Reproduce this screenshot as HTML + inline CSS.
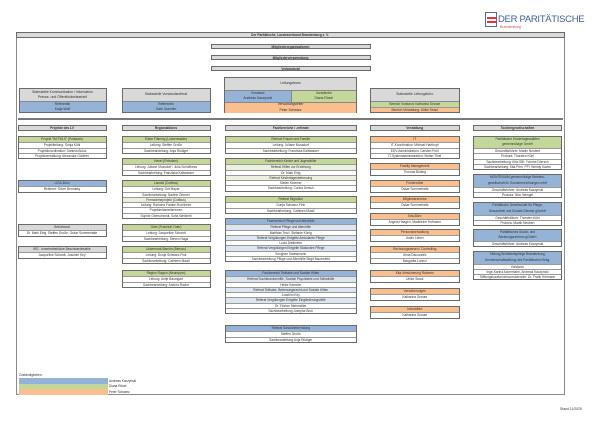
<!DOCTYPE html>
<html><head><meta charset="utf-8"><style>
*{margin:0;padding:0;box-sizing:border-box}
body{width:600px;height:424px;background:#fff;position:relative;overflow:hidden;font-family:"Liberation Sans",sans-serif;color:#333}
.a{position:absolute}
.b{position:absolute;border:0.8px solid #6a6a6a;background:#fff}
.r{height:5.3px;line-height:5.3px;font-size:3.2px;text-align:center;white-space:nowrap;overflow:hidden;border-top:0.4px solid #999}
.r:first-child{border-top:none}
.h{font-weight:bold}
.g{background:#d9d9d9}.bl{background:#95b3d7}.gr{background:#c4d79b}.or{background:#fabf8f}.lb{background:#dce6f1}.lg{background:#ebf1de}
.t{font-size:3.4px;text-align:center;display:flex;flex-direction:column;justify-content:center;align-items:center;line-height:5.5px}
</style></head><body>
<div class="a" style="left:485px;top:12px;width:12px;height:15px;border:1.2px solid #4a6fa5"></div>
<div class="a" style="left:487px;top:17px;width:10px;height:2px;background:#e2343d"></div>
<div class="a" style="left:487px;top:20.5px;width:10px;height:2px;background:#e2343d"></div>
<div class="a" style="left:498px;top:14px;font-size:9.5px;color:#3d5fa0;letter-spacing:-0.3px;white-space:nowrap">DER PARITÄTISCHE</div>
<div class="a" style="left:500px;top:24.5px;font-size:3.6px;color:#d9464d">Brandenburg</div>
<div class="a" style="left:15.5px;top:32px;width:549px;height:363px;border:1px solid #8a8a8a"></div>
<div class="b g" style="left:15.5px;top:32px;width:549px;height:5.5px"><div class="r h" style="height:4px;line-height:4px">Der Paritätische, Landesverband Brandenburg e. V.</div></div>
<div class="b g" style="left:210.5px;top:43.5px;width:160px;height:5.7px"><div class="r h" style="height:4.2px;line-height:4.2px">Mitgliederorganisationen</div></div>
<div class="b g" style="left:210.5px;top:54.5px;width:160px;height:5.7px"><div class="r h" style="height:4.2px;line-height:4.2px">Mitgliederversammlung</div></div>
<div class="b g" style="left:210.5px;top:65.5px;width:160px;height:5.7px"><div class="r h" style="height:4.2px;line-height:4.2px">Verbandsrat</div></div>
<div class="b" style="left:224px;top:77px;width:133px;height:36px">
 <div class="g t" style="height:11.5px">Leitungsteam</div>
 <div style="display:flex;height:12px;border-top:0.4px solid #888"><div class="bl t" style="width:50%">Vorstand<br>Andreas Kaczynski</div><div class="gr t" style="width:50%;border-left:0.4px solid #888">Vorständin<br>Diana Rösel</div></div>
 <div class="or t" style="height:11px;border-top:0.4px solid #888">Verwaltungsleiter<br>Peter Schwarz</div>
</div>
<div class="b" style="left:18.5px;top:88px;width:88px;height:24.5px">
 <div class="g t" style="height:12px;line-height:5px">Stabsstelle Kommunikation / Information<br>Presse- und Öffentlichkeitsarbeit</div>
 <div class="bl t" style="height:11px;border-top:0.4px solid #888;line-height:5px">Referentin<br>Katja Wolf</div>
</div>
<div class="b" style="left:121.5px;top:88px;width:89px;height:24.5px">
 <div class="g t" style="height:12px">Stabsstelle Vorstandsreferat</div>
 <div class="bl t" style="height:11px;border-top:0.4px solid #888;line-height:5px">Referentin<br>Gabi Joachim</div>
</div>
<div class="b" style="left:370px;top:88px;width:89.5px;height:24.5px">
 <div class="g t" style="height:12px">Stabsstelle Leitungsbüro</div>
 <div class="gr r" style="height:5.6px;line-height:5.6px;border-top:0.4px solid #888">Bereich Vorstand: Katharina Grosse</div>
 <div class="or r" style="height:5.3px;line-height:5.3px">Bereich Verwaltung: Ulrike Seaul</div>
</div>
<div class="a" style="left:18px;top:117.5px;width:545px;height:2px;background:#7a7a7a"></div>
<div class="b g" style="left:17.5px;top:125px;width:89px;height:5.5px"><div class="r h" style="height:4px;line-height:4px">Projekte des LV</div></div>
<div class="b g" style="left:121.5px;top:125px;width:89px;height:5.5px"><div class="r h" style="height:4px;line-height:4px">Regionalbüros</div></div>
<div class="b g" style="left:224.5px;top:125px;width:132.5px;height:5.5px"><div class="r h" style="height:4px;line-height:4px">Fachbereiche / -referate</div></div>
<div class="b g" style="left:370px;top:125px;width:89.5px;height:5.5px"><div class="r h" style="height:4px;line-height:4px">Verwaltung</div></div>
<div class="b g" style="left:473px;top:125px;width:89px;height:5.5px"><div class="r h" style="height:4px;line-height:4px">Tochtergesellschaften</div></div>
<div class="b" style="left:17.5px;top:136px;width:89px"><div class="r gr">Projekt "IM PULS" (Potsdam)</div><div class="r">Projektleitung: Sonja Kühl</div><div class="r">Projektkoordination: Daniela Bolus</div><div class="r">Projektverwaltung: Alexandra Günther</div></div>
<div class="b" style="left:17.5px;top:180px;width:89px"><div class="r bl">LIGA-Büro</div><div class="r">Referent: Oliver Berndsky</div></div>
<div class="b" style="left:17.5px;top:224px;width:89px"><div class="r g">Betriebsrat</div><div class="r">Dr. Mark Eirig, Steffen Große, Oskar Sommerlatte</div></div>
<div class="b" style="left:17.5px;top:246px;width:89px"><div class="r g">IBS - innerbetriebliche Beschwerdestelle</div><div class="r">Jacqueline Schardt, Joachim Key</div></div>
<div class="b" style="left:121.5px;top:136px;width:89px"><div class="r gr">Elster Fläming (Luckenwalde)</div><div class="r">Leitung: Steffen Große</div><div class="r">Sachbearbeitung: Anja Rüdiger</div></div>
<div class="b" style="left:121.5px;top:158px;width:89px"><div class="r gr">Havel (Potsdam)</div><div class="r">Leitung: Juliane Mossdorf / Julia Schulthess</div><div class="r">Sachbearbeitung: Franziska Kaltwasser</div></div>
<div class="b" style="left:121.5px;top:180px;width:89px"><div class="r gr">Lausitz (Cottbus)</div><div class="r">Leitung: Grit Mayer</div><div class="r">Sachbearbeitung: Nadine Zimmer</div><div class="r lg">Fernwärmeprojekt (Cottbus)</div><div class="r">Leitung: Ramona Franke-Hochheim</div><div class="r">Projektmitarbeiterinnen</div><div class="r">Sophie Oberschmidt, Sofia Weisheit</div></div>
<div class="b" style="left:121.5px;top:224px;width:89px"><div class="r gr">Oder (Frankfurt Oder)</div><div class="r">Leitung: Jacqueline Schardt</div><div class="r">Sachbearbeitung: Steven Naga</div></div>
<div class="b" style="left:121.5px;top:246px;width:89px"><div class="r gr">Uckermark-Barnim (Bernau)</div><div class="r">Leitung: Dunja Schwarz-Fink</div><div class="r">Sachbearbeitung: Cathleen Maaß</div></div>
<div class="b" style="left:121.5px;top:270px;width:89px"><div class="r gr">Region Ruppin (Neuruppin)</div><div class="r">Leitung: Antje Baumgart</div><div class="r">Sachbearbeitung: Andrea Rache</div></div>
<div class="b" style="left:224.5px;top:136px;width:132.5px"><div class="r gr">Referat Frauen und Familie</div><div class="r">Leitung: Juliane Mossdorf</div><div class="r">Sachbearbeitung: Franziska Kaltwasser</div></div>
<div class="b" style="left:224.5px;top:158px;width:132.5px"><div class="r gr">Fachbereich Kinder und Jugendhilfe</div><div class="r lg">Referat Hilfen zur Erziehung</div><div class="r">Dr. Mark Eirig</div><div class="r lg">Referat Kindertagesbetreuung</div><div class="r">Stefan Kloemer</div><div class="r">Sachbearbeitung: Corina Detsch</div></div>
<div class="b" style="left:224.5px;top:196px;width:132.5px"><div class="r gr">Referat Migration</div><div class="r">Dunja Schwarz-Fink</div><div class="r">Sachbearbeitung: Cathleen Maaß</div></div>
<div class="b" style="left:224.5px;top:218px;width:132.5px"><div class="r bl">Fachbereich Pflege und Altenhilfe</div><div class="r lb">Referat Pflege und Altenhilfe</div><div class="r">Matthias Teal / Stefanie König</div><div class="r lb">Referat Vergütungen Entgelte Ambulante Pflege</div><div class="r">Lucia Dietlmeier</div><div class="r lb">Referat Vergütungen Entgelte Stationäre Pflege</div><div class="r">Songhee Swassmann</div><div class="r">Sachbearbeitung Pflege und Altenhilfe Birgit Bauersfeld</div></div>
<div class="b" style="left:224.5px;top:270px;width:132.5px"><div class="r bl">Fachbereich Teilhabe und Soziale Hilfen</div><div class="r lb">Referat Suchtkrankenhilfe, Soziale Psychiatrie und Selbsthilfe</div><div class="r">Heike Kammer</div><div class="r lb">Referat Teilhabe, Betreuungsrecht und Soziale Hilfen</div><div class="r">Joachim Key</div><div class="r lb">Referat Vergütungen Entgelte Eingliederungshilfe</div><div class="r">Dr. Florian Steinmöller</div><div class="r">Sachbearbeitung Josepha Brun</div></div>
<div class="b" style="left:224.5px;top:325px;width:132.5px"><div class="r bl">Referat Schuldnerberatung</div><div class="r">Steffen Große</div><div class="r">Sachbearbeitung Anja Rüdiger</div></div>
<div class="b" style="left:370px;top:136px;width:89.5px"><div class="r or">IT</div><div class="r">IT-Koordination: Michael Harthopf</div><div class="r">EDV-Administration: Carsten Pohl</div><div class="r">IT-Systemadministration: Stefan Thiel</div></div>
<div class="b" style="left:370px;top:163px;width:89.5px"><div class="r or">Facility Management</div><div class="r">Thomas Böding</div></div>
<div class="b" style="left:370px;top:180px;width:89.5px"><div class="r or">Fördermittel</div><div class="r">Oskar Sommerlatte</div></div>
<div class="b" style="left:370px;top:196px;width:89.5px"><div class="r or">Mitgliederservice</div><div class="r">Oskar Sommerlatte</div></div>
<div class="b" style="left:370px;top:213px;width:89.5px"><div class="r or">Kita-Büro</div><div class="r">Angela Haagen, Madeleine Hofmann</div></div>
<div class="b" style="left:370px;top:229px;width:89.5px"><div class="r or">Personalverwaltung</div><div class="r">Justin Leben</div></div>
<div class="b" style="left:370px;top:246px;width:89.5px"><div class="r or">Rechnungswesen / Controlling</div><div class="r">Alma Dacovaleb</div><div class="r">Margarita Lorenz</div></div>
<div class="b" style="left:370px;top:270px;width:89.5px"><div class="r or">Kita-Versicherung Rahmen</div><div class="r">Ulrike Seaul</div></div>
<div class="b" style="left:370px;top:288px;width:89.5px"><div class="r or">Versicherungen</div><div class="r">Katharina Grosse</div></div>
<div class="b" style="left:370px;top:306px;width:89.5px"><div class="r or">Immobilien</div><div class="r">Katharina Grosse</div></div>
<div class="b" style="left:473px;top:136px;width:89px"><div class="r gr" style="height:11px;line-height:5.3px;white-space:normal">Paritätische Kindertagesstätten<br>gemeinnützige GmbH</div><div class="r">Geschäftsführer: Martin Neubert</div><div class="r">Prokura: Thorsten Kühl</div><div class="r">Sachbearbeitung: Kita GBI: Yvonne Dörrsch</div><div class="r">Sachbearbeitung: Kita Prim, PFI: Wendy Kaven</div></div>
<div class="b" style="left:473px;top:174px;width:89px"><div class="r bl" style="height:11.5px;line-height:5.5px;white-space:normal">MONTENIUM gemeinnützige Betriebs-<br>gesellschaft für Sondereinrichtungen mbH</div><div class="r">Geschäftsführer: Andreas Kaczynski</div><div class="r">Prokura: Nico Wengel</div></div>
<div class="b" style="left:473px;top:202px;width:89px"><div class="r bl" style="height:11.5px;line-height:5.5px;white-space:normal">Paritätische Gesellschaft für Pflege,<br>Gesundheit und Soziale Dienste gGmbH</div><div class="r">Geschäftsführer: Thorsten Kühl</div><div class="r">Prokura: Martin Neubert</div></div>
<div class="b" style="left:473px;top:229px;width:89px"><div class="r bl" style="height:11px;line-height:5.3px;white-space:normal">Paritätisches Sozial- und<br>Beratungszentrum gGmbH</div><div class="r">Geschäftsführer: Andreas Kaczynski</div></div>
<div class="b" style="left:473px;top:251px;width:89px"><div class="r bl" style="height:11.5px;line-height:5.5px;white-space:normal">Stiftung Wohlfahrtspflege Brandenburg,<br>Gemeinschaftsstiftung des Paritätischen Brbg.</div><div class="r">Vorstand:</div><div class="r">Inge-Karina Ackermann, Andreas Kaczynski</div><div class="r">Stiftungskuratoriumsvorsitzender: Dr. Frank Hermann</div></div>
<div class="a" style="left:19px;top:372.5px;font-size:3.2px">Zuständigkeiten:</div>
<div class="a bl" style="left:19px;top:378px;width:89px;height:5.5px"></div>
<div class="a gr" style="left:19px;top:383.5px;width:89px;height:5.5px"></div>
<div class="a or" style="left:19px;top:389px;width:89px;height:5.5px"></div>
<div class="a" style="left:109px;top:378.5px;font-size:3.2px;line-height:5.5px">Andreas Kaczynski<br>Diana Rösel<br>Peter Schwarz</div>
<div class="a" style="left:560px;top:407px;font-size:3.4px">Stand 11/2025</div>
</body></html>
